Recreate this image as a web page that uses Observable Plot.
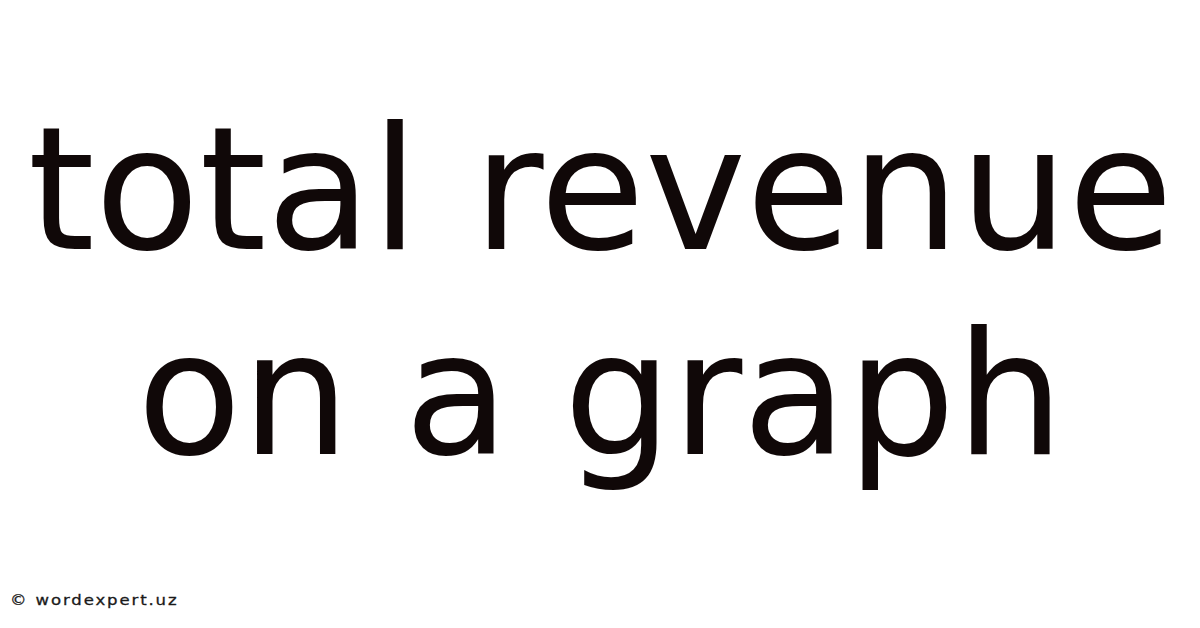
<!DOCTYPE html>
<html>
<head>
<meta charset="utf-8">
<script src="https://cdn.jsdelivr.net/npm/d3@7"></script>
<script src="https://cdn.jsdelivr.net/npm/@observablehq/plot@0.6"></script>
<style>
  html, body { margin: 0; padding: 0; background: #ffffff; }
  #chart svg { display: block; }
</style>
</head>
<body>
<div id="chart"></div>
<script>
const titleLines = ["total revenue", "on a graph"];
const lineIndex = [0, 1];
const footerText = ["© wordexpert.uz"];

const titleData = titleLines.map((t, i) => ({text: t, line: lineIndex[i]}));

const chart = Plot.plot({
  width: 1200,
  height: 628,
  margin: 0,
  style: {background: "#ffffff"},
  x: {axis: null, domain: [0, 1], range: [0, 1200]},
  y: {axis: null, domain: [0, 1], range: [248, 453]},
  marks: [
    Plot.text(titleData, {
      x: () => 0.5,
      y: "line",
      text: "text",
      textAnchor: "middle",
      lineAnchor: "bottom",
      fontFamily: "DejaVu Sans",
      fontSize: 171,
      fill: "#100808"
    }),
    Plot.text(footerText, {
      frameAnchor: "bottom-left",
      text: d => d,
      textAnchor: "start",
      lineAnchor: "bottom",
      fontFamily: "DejaVu Sans",
      fontSize: 14,
      fill: "#1a1a1a"
    })
  ]
});
const groups = chart.querySelectorAll('g[aria-label="text"]');
const footerG = groups[groups.length - 1];
footerG.setAttribute("letter-spacing", "1.6px");
footerG.setAttribute("transform", "translate(10,-23) scale(1.18,1)");
footerG.setAttribute("stroke", "#1a1a1a");
footerG.setAttribute("stroke-width", "0.3");
document.getElementById("chart").appendChild(chart);
</script>
</body>
</html>
